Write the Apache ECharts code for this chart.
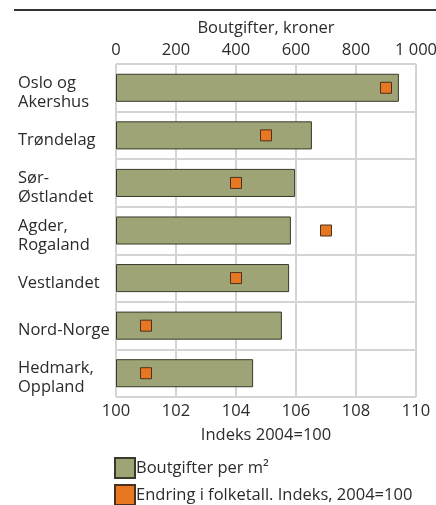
<!DOCTYPE html>
<html>
<head>
<meta charset="utf-8">
<script src="https://cdn.jsdelivr.net/npm/echarts@6/dist/echarts.min.js"></script>
<style>
  html, body { margin: 0; padding: 0; background: #fff; }
  #main { width: 436px; height: 505px; }
</style>
</head>
<body>
<div id="main"></div>
<script>
// regioner (ovenfra og ned)
const regions = ['Oslo og\nAkershus', 'Trøndelag', 'Sør-\nØstlandet', 'Agder,\nRogaland', 'Vestlandet', 'Nord-Norge', 'Hedmark,\nOppland']
// boutgifter per m2, kroner
const boutgifter = [943, 653, 597, 583, 577, 553, 457]
// endring i folketall, indeks 2004=100
const folketall = [109, 105, 104, 107, 104, 101, 101]

const myChart = echarts.init(document.getElementById('main'))
const font = 'Open Sans, Noto Sans, sans-serif'
const txt = '#2b2b2b'
const fs = 16.5
const gridLine = { show: true, lineStyle: { color: '#d4d4d4', width: 2 } }

const legendBase = {
  orient: 'vertical',
  left: 114,
  padding: 0,
  itemWidth: 20,
  itemHeight: 20,
  icon: 'rect',
  textStyle: { fontSize: fs, color: txt, fontFamily: font, padding: [0, 0, 0, -4] }
}

const option = {
  animation: false,
  textStyle: { fontFamily: font },
  graphic: [
    { type: 'line', shape: { x1: 14, y1: 10, x2: 436, y2: 10 }, style: { stroke: '#333', lineWidth: 2 } }
  ],
  grid: { left: 116, right: 20, top: 64, bottom: 108, outerBoundsMode: 'none', containLabel: false },
  legend: [
    { ...legendBase, top: 457, data: ['Boutgifter per m²'] },
    { ...legendBase, top: 484, data: ['Endring i folketall. Indeks, 2004=100'] }
  ],
  xAxis: [
    {
      type: 'value',
      position: 'top',
      min: 0, max: 1000, interval: 200,
      name: 'Boutgifter, kroner',
      nameLocation: 'middle',
      nameGap: 26,
      nameTextStyle: { fontSize: fs, color: txt },
      axisLine: { show: false },
      axisTick: { show: false },
      axisLabel: {
        fontSize: fs, color: txt, margin: 5,
        formatter: v => String(v).replace(/\B(?=(\d{3})+(?!\d))/g, ' ')
      },
      splitLine: gridLine
    },
    {
      type: 'value',
      position: 'bottom',
      min: 100, max: 110, interval: 2,
      name: 'Indeks 2004=100',
      nameLocation: 'middle',
      nameGap: 30,
      nameTextStyle: { fontSize: fs, color: txt },
      axisLine: { show: false },
      axisTick: { show: false },
      axisLabel: { fontSize: fs, color: txt, margin: 6 },
      splitLine: { show: false }
    }
  ],
  yAxis: {
    type: 'category',
    inverse: true,
    data: regions,
    axisLine: { show: false },
    axisTick: { show: false },
    axisLabel: {
      fontSize: fs, color: txt, align: 'left', margin: 98,
      // tom linje øverst skyver teksten litt ned
      formatter: v => '{s| }\n' + v.split('\n').map(s => '{n|' + s + '}').join('\n'),
      rich: {
        s: { fontSize: 1, lineHeight: 10 },
        n: { fontSize: fs, color: txt, lineHeight: 19 }
      }
    },
    splitLine: gridLine
  },
  series: [
    {
      name: 'Boutgifter per m²',
      type: 'bar',
      xAxisIndex: 0,
      data: boutgifter,
      barCategoryGap: '41%',
      itemStyle: { color: '#9ea476', borderColor: '#3a3a2a', borderWidth: 1 }
    },
    {
      name: 'Endring i folketall. Indeks, 2004=100',
      type: 'scatter',
      xAxisIndex: 1,
      symbol: 'rect',
      symbolSize: 11,
      data: folketall,
      itemStyle: { color: '#e87722', borderColor: '#4a3020', borderWidth: 1, opacity: 1 }
    }
  ]
}

myChart.setOption(option)
</script>
</body>
</html>
